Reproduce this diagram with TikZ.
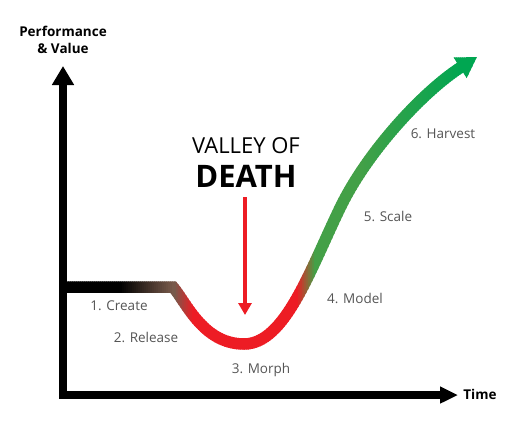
\documentclass[tikz,border=0pt]{standalone}
\usepackage{fontspec}
\setmainfont{Open Sans}
\usepackage{tikz}
\usetikzlibrary{arrows.meta}

\definecolor{deathred}{RGB}{237,28,36}
\definecolor{modelgreen}{RGB}{67,160,71}
\definecolor{harvestgreen}{RGB}{0,166,81}
\definecolor{createbrown}{RGB}{120,90,75}
\definecolor{labelgray}{RGB}{85,85,85}

\begin{document}
\begin{tikzpicture}[
        x=1pt, y=-1pt,
        >=Latex,
        axis/.style={line width=8.5pt, line join=miter, draw=black},
        curve/.style={line width=11.5pt, line cap=butt, -{Triangle[length=20pt, width=23pt]}},
        stage/.style={text=labelgray, font=\fontsize{13.5}{16}\selectfont, inner sep=0pt, anchor=base},
        axislabel/.style={font=\bfseries\fontsize{13.5}{17}\selectfont, inner sep=0pt, align=center}
    ]
        \useasboundingbox (0,0) rectangle (510,436);

        % axes
        \coordinate (origin) at (63,395);
        \coordinate (ytip) at (63,66);
        \coordinate (xtip) at (458,395);
        \draw[axis, {Triangle[length=19pt, width=21pt]}-{Triangle[length=18pt, width=16pt]}] (ytip) -- (origin) -- (xtip);
        \node[axislabel] (perf) at (63,40) {Performance\\\& Value};
        \node[axislabel, anchor=base] (time) at (480,399.5) {Time};

        % the curve, coloured band by band
        \def\valleypath{(63,287) -- (173,287) .. controls (186,302) and (203,344) .. (244,344)
            .. controls (285,344) and (310,270) .. (340,208) .. controls (368,150) and (425,90) .. (477,57)}
        \foreach \x in {60,62,...,480} {
            \pgfmathsetmacro\pa{100*min(max((\x-120)/52,0),1)}
            \pgfmathsetmacro\pb{100*min(max((\x-174)/18,0),1)}
            \pgfmathsetmacro\pc{100*min(max((\x-296)/18,0),1)}
            \pgfmathsetmacro\pd{100*min(max((\x-360)/100,0),1)}
            \colorlet{bandA}{createbrown!\pa!black}
            \colorlet{bandB}{deathred!\pb!bandA}
            \colorlet{bandC}{modelgreen!\pc!bandB}
            \colorlet{bandD}{harvestgreen!\pd!bandC}
            \begin{scope}
                \clip (\x,0) rectangle (\x+2.6,436);
                \draw[curve, bandD] \valleypath;
            \end{scope}
        }

        % valley of death
        \node[inner sep=0pt, anchor=base, font=\fontsize{22}{26}\selectfont] (valley) at (246,153) {VALLEY OF};
        \node[inner sep=0pt, anchor=base, font=\bfseries\fontsize{31}{36}\selectfont] (death) at (246,187) {DEATH};
        \coordinate (redtip) at (245,315);
        \draw[deathred, line width=3.5pt, -{Triangle[length=12pt, width=13pt]}] ([yshift=-10pt]death.south -| redtip) -- (redtip);

        % stages
        \node[stage] (create) at (119,310) {1. Create};
        \node[stage] (release) at (146,342) {2. Release};
        \node[stage] (morph) at (261,373) {3. Morph};
        \node[stage] (model) at (355,303) {4. Model};
        \node[stage] (scale) at (388,221) {5. Scale};
        \node[stage] (harvest) at (443,138) {6. Harvest};
    \end{tikzpicture}
\end{document}
